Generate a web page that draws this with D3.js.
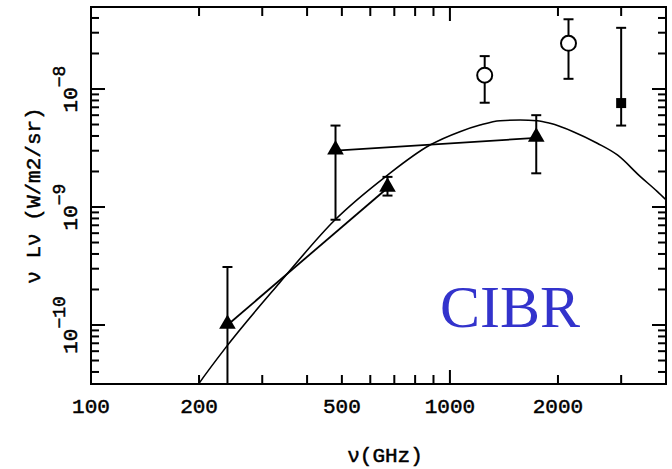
<!DOCTYPE html>
<html>
<head>
<meta charset="utf-8">
<script src="https://cdn.jsdelivr.net/npm/d3@7"></script>
<style>
  html, body { margin: 0; padding: 0; background: #fff; }
  svg { display: block; }
</style>
</head>
<body>
<svg id="chart" width="672" height="469"></svg>
<script>
// Frequency axis (GHz) labels and intensity decades
const xTickLabels = [100, 200, 500, 1000, 2000];
const yDecades = [-10, -9, -8];

// Filled triangles: measured points with error bars
const triFreq = [240, 480, 670, 1740];
const triVal  = [1.0e-10, 3.0e-9, 1.45e-9, 3.85e-9];
const triHi   = [3.1e-10, 4.9e-9, 1.8e-9, 6.0e-9];
const triLo   = [1.5e-11, 7.8e-10, 1.25e-9, 1.93e-9];
// pairs of triangle indices joined by straight segments
const triLinks = [[0, 2], [1, 3]];

// Open circles
const circFreq = [1250, 2140];
const circVal  = [1.31e-8, 2.44e-8];
const circHi   = [1.9e-8, 3.9e-8];
const circLo   = [7.65e-9, 1.22e-8];

// Filled square
const sqFreq = [3000];
const sqVal  = [7.6e-9];
const sqHi   = [3.3e-8];
const sqLo   = [4.9e-9];

// Model spectrum
const curveFreq = [194, 200, 237, 335, 478, 665, 880, 1066, 1213, 1380, 1569, 1750, 1901, 2206, 2574, 2928, 3394, 3785, 4000];
const curveVal  = [2.8e-11, 3.2e-11, 6.4e-11, 2.27e-10, 7.76e-10, 1.83e-9, 3.35e-9, 4.35e-9, 4.95e-9, 5.39e-9, 5.46e-9, 5.39e-9, 5.12e-9, 4.35e-9, 3.47e-9, 2.76e-9, 1.81e-9, 1.35e-9, 1.15e-9];

const svg = d3.select("#chart");
const L = 91, R = 666, T = 7, B = 384;
const MONO = "'Liberation Mono', 'DejaVu Sans Mono', monospace";

const x = d3.scaleLog().domain([100, 4000]).range([L, R]);
const y = d3.scaleLog().domain([Math.pow(10, -10.5), Math.pow(10, -7.305)]).range([B, T]);

// ----- tick marks (all inward, on all four sides), drawn as small filled bars -----
const xTicks = [];
for (let d = 100; d <= 1000; d *= 10) {
  for (let k = 1; k <= 9; k++) {
    const v = d * k;
    if (v > 100 && v < 4000) xTicks.push({ v: v, len: k === 1 ? 14 : 9 });
  }
}
const yTicks = [];
for (let e = -11; e <= -8; e++) {
  for (let k = 1; k <= 9; k++) {
    const v = k * Math.pow(10, e);
    if (v > 3.17e-11 && v < 4.9e-8) yTicks.push({ v: v, len: k === 1 ? 14 : 8 });
  }
}

const tickG = svg.append("g").attr("fill", "#000");
tickG.selectAll("rect.xb").data(xTicks).join("rect").attr("class", "xb")
  .attr("x", d => x(d.v) - 1).attr("width", 2)
  .attr("y", d => B - d.len).attr("height", d => d.len);
tickG.selectAll("rect.xt").data(xTicks).join("rect").attr("class", "xt")
  .attr("x", d => x(d.v) - 1).attr("width", 2)
  .attr("y", T).attr("height", d => d.len);
tickG.selectAll("rect.yl").data(yTicks).join("rect").attr("class", "yl")
  .attr("y", d => y(d.v) - 1).attr("height", 2)
  .attr("x", L).attr("width", d => d.len);
tickG.selectAll("rect.yr").data(yTicks).join("rect").attr("class", "yr")
  .attr("y", d => y(d.v) - 1).attr("height", 2)
  .attr("x", d => R - d.len).attr("width", d => d.len);

// frame
svg.append("rect").attr("x", L).attr("y", T).attr("width", R - L).attr("height", B - T)
  .attr("fill", "none").attr("stroke", "#000").attr("stroke-width", 2);

// ----- tick labels -----
const labelStyle = sel => sel
  .attr("font-family", MONO).attr("font-size", 21).attr("fill", "#000")
  .attr("stroke", "#000").attr("stroke-width", 0.5);

svg.append("g").selectAll("text").data(xTickLabels).join("text")
  .attr("x", d => x(d)).attr("y", 413)
  .attr("text-anchor", "middle")
  .call(labelStyle)
  .text(d => d);

const yl = svg.append("g").selectAll("g").data(yDecades).join("g")
  .attr("transform", d => `translate(77,${y(Math.pow(10, d))}) rotate(-90)`);
const ytx = yl.append("text").attr("text-anchor", "middle").call(labelStyle);
ytx.append("tspan").text("10");
ytx.append("tspan").attr("dy", -12).attr("font-size", 18).text(d => "\u2212" + Math.abs(d));

// axis titles
svg.append("text").attr("x", 385).attr("y", 462).attr("text-anchor", "middle")
  .call(labelStyle)
  .text("\u03bd(GHz)");
svg.append("text").attr("transform", `translate(40,${(T + B) / 2}) rotate(-90)`)
  .attr("text-anchor", "middle")
  .call(labelStyle)
  .text("\u03bd L\u03bd (W/m2/sr)");

// ----- data -----
svg.append("defs").append("clipPath").attr("id", "plotclip")
  .append("rect").attr("x", L).attr("y", T).attr("width", R - L).attr("height", B - T);
const plot = svg.append("g").attr("clip-path", "url(#plotclip)");

// model curve
const line = d3.line().x(d => x(d[0])).y(d => y(d[1])).curve(d3.curveMonotoneX);
plot.append("path").datum(curveFreq.map((f, i) => [f, curveVal[i]]))
  .attr("d", line).attr("fill", "none").attr("stroke", "#000").attr("stroke-width", 1.6);

// segments joining triangles
plot.append("g").selectAll("line").data(triLinks).join("line")
  .attr("x1", d => x(triFreq[d[0]])).attr("y1", d => y(triVal[d[0]]))
  .attr("x2", d => x(triFreq[d[1]])).attr("y2", d => y(triVal[d[1]]))
  .attr("stroke", "#000").attr("stroke-width", 1.8);

function errorBars(freq, hi, lo) {
  const g = plot.append("g").attr("stroke", "#000").attr("stroke-width", 2);
  freq.forEach((f, i) => {
    const cx = x(f);
    g.append("line").attr("x1", cx).attr("x2", cx).attr("y1", y(hi[i])).attr("y2", y(lo[i]));
    g.append("line").attr("x1", cx - 5).attr("x2", cx + 5).attr("y1", y(hi[i])).attr("y2", y(hi[i]));
    g.append("line").attr("x1", cx - 5).attr("x2", cx + 5).attr("y1", y(lo[i])).attr("y2", y(lo[i]));
  });
}
errorBars(triFreq, triHi, triLo);
errorBars(circFreq, circHi, circLo);
errorBars(sqFreq, sqHi, sqLo);

// triangle markers
const tri = d3.symbol().type(d3.symbolTriangle).size(120);
plot.append("g").selectAll("path").data(triFreq).join("path")
  .attr("transform", (d, i) => `translate(${x(d)},${y(triVal[i]) - 1})`)
  .attr("d", tri).attr("fill", "#000");

// open circles
plot.append("g").selectAll("circle").data(circFreq).join("circle")
  .attr("cx", d => x(d)).attr("cy", (d, i) => y(circVal[i])).attr("r", 7.5)
  .attr("fill", "#fff").attr("stroke", "#000").attr("stroke-width", 2);

// filled square
plot.append("g").selectAll("rect").data(sqFreq).join("rect")
  .attr("x", d => x(d) - 5).attr("y", (d, i) => y(sqVal[i]) - 5)
  .attr("width", 10).attr("height", 10).attr("fill", "#000");

// annotation
svg.append("text").attr("x", 440).attr("y", 327)
  .attr("font-family", "'Liberation Serif', 'Times New Roman', serif")
  .attr("font-size", 60).attr("fill", "#3333cc")
  .text("CIBR");
</script>
</body>
</html>
